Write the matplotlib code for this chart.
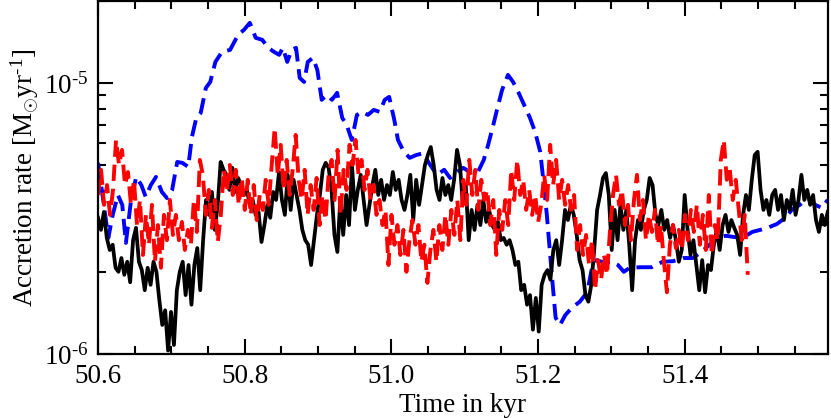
import numpy as np
import matplotlib
matplotlib.use("Agg")
import matplotlib.pyplot as plt
from matplotlib.ticker import MultipleLocator, LogLocator, FormatStrFormatter, NullFormatter, FuncFormatter

plt.rcParams['font.family'] = ['Liberation Serif', 'DejaVu Serif']
plt.rcParams['mathtext.fontset'] = 'custom'
plt.rcParams['mathtext.rm'] = 'Liberation Serif'
plt.rcParams['mathtext.it'] = 'Liberation Serif:italic'

# accretion rates in units of 1e-6 Msun/yr
# black: sampled evenly from 50.600 to 51.595 kyr
black = [3.18, 2.87, 3.34, 2.68, 2.42, 2.53, 2.08, 2.01, 2.26, 1.96, 2.19, 1.84, 2.63, 2.92, 2.19, 2.04,
         1.72, 2.08, 1.80, 2.19, 2.01, 1.58, 1.28, 1.45, 1.03, 1.43, 1.08, 1.72, 2.01, 2.19, 1.65, 2.13,
         1.52, 2.13, 2.46, 1.72, 2.63, 3.70, 3.26, 3.96, 2.87, 3.55, 5.11, 4.78, 4.58, 4.03, 4.86, 3.96,
         4.46, 4.20, 3.86, 4.03, 3.55, 3.70, 3.26, 3.34, 2.59, 2.99, 3.55, 3.18, 3.96, 3.70, 4.69, 3.70,
         3.26, 4.58, 3.40, 4.39, 3.86, 3.40, 2.87, 2.63, 2.53, 2.13, 2.63, 3.26, 3.86, 4.78, 5.07, 4.86,
         4.03, 2.75, 2.38, 3.70, 2.75, 3.86, 2.99, 4.98, 3.40, 4.03, 4.58, 3.70, 2.99, 3.55, 4.20, 4.78,
         3.86, 4.39, 3.70, 4.20, 3.86, 4.69, 4.03, 4.39, 3.70, 3.40, 3.86, 4.58, 3.12, 4.39, 3.55, 4.20,
         4.98, 5.42, 5.80, 4.98, 4.03, 3.70, 4.46, 3.86, 4.20, 3.70, 4.39, 5.66, 4.98, 3.55, 4.20, 2.63,
         3.40, 2.87, 3.55, 2.99, 3.70, 3.07, 3.40, 2.99, 2.87, 3.07, 2.63, 2.68, 2.53, 2.63, 2.42, 2.13,
         2.19, 1.72, 1.80, 1.52, 1.65, 1.23, 1.61, 1.21, 1.80, 1.96, 2.04, 1.88, 2.42, 2.63, 2.13, 2.63,
         3.40, 3.12, 3.55, 3.26, 2.75, 2.22, 2.04, 1.65, 1.56, 1.80, 2.42, 3.40, 3.86, 4.46, 4.65, 3.86,
         2.42, 3.40, 2.63, 3.55, 2.87, 3.40, 2.53, 1.72, 2.63, 3.12, 2.87, 3.40, 3.70, 4.46, 4.20, 3.26,
         2.99, 3.40, 2.87, 3.12, 2.68, 2.99, 2.63, 2.19, 2.42, 3.86, 2.87, 2.32, 2.63, 2.13, 1.72, 2.22,
         1.69, 2.13, 2.04, 2.53, 2.87, 2.42, 2.99, 3.26, 2.82, 3.12, 2.92, 2.75, 2.32, 3.26, 3.86, 3.40,
         4.39, 5.42, 5.57, 4.03, 3.40, 3.70, 3.26, 3.86, 4.03, 3.40, 3.86, 3.12, 3.70, 3.40, 4.03, 3.26,
         3.70, 4.58, 3.70, 4.03, 3.55, 3.86, 3.12, 2.82, 3.26, 2.99, 3.34]

# red: sampled evenly from 50.600 to 51.486 kyr
red = [3.86, 4.78, 3.55, 4.20, 3.26, 4.03, 6.16, 4.98, 5.66, 4.20, 4.69, 3.55, 4.39, 2.99, 3.70, 2.32,
       3.26, 2.53, 3.55, 2.19, 2.99, 2.08, 3.26, 2.63, 3.70, 2.75, 3.26, 2.63, 3.07, 2.42, 2.87, 2.53,
       3.70, 2.82, 5.20, 4.58, 3.26, 4.03, 2.92, 3.70, 2.59, 3.26, 4.78, 3.96, 4.98, 3.86, 4.78, 3.55,
       4.46, 3.40, 4.39, 3.26, 4.20, 3.12, 3.86, 3.40, 4.39, 3.55, 4.98, 6.82, 4.58, 5.91, 4.03, 5.20,
       3.86, 4.78, 6.43, 4.39, 3.70, 4.78, 3.26, 4.20, 3.40, 4.46, 2.99, 3.86, 3.12, 4.58, 5.20, 3.70,
       5.66, 3.26, 4.78, 4.03, 5.91, 4.98, 6.16, 4.58, 5.20, 4.03, 4.78, 3.70, 4.20, 3.26, 3.70, 2.99,
       3.40, 2.13, 3.26, 2.53, 2.99, 2.32, 2.87, 2.01, 2.63, 3.12, 2.53, 2.99, 2.19, 2.53, 1.83, 2.42,
       2.87, 2.19, 2.99, 2.42, 3.26, 2.53, 3.40, 2.75, 3.70, 2.63, 4.39, 3.55, 5.20, 3.86, 4.78, 3.40,
       4.39, 3.70, 4.03, 2.99, 3.70, 2.32, 3.40, 2.87, 3.70, 2.99, 4.78, 3.70, 5.20, 3.86, 4.39, 3.40,
       4.03, 3.26, 3.86, 3.07, 3.55, 4.58, 3.70, 5.91, 4.20, 5.20, 3.70, 4.39, 3.55, 4.20, 3.40, 3.86,
       2.42, 2.99, 2.32, 2.75, 2.13, 2.63, 1.72, 2.22, 1.88, 2.32, 1.96, 2.87, 3.86, 4.58, 3.55, 4.03,
       2.99, 3.55, 2.63, 3.70, 4.58, 3.12, 3.70, 2.63, 3.26, 2.82, 3.40, 2.53, 2.99, 2.19, 1.69, 2.53,
       2.99, 2.46, 2.87, 2.42, 3.26, 2.63, 3.40, 2.82, 3.55, 2.53, 3.26, 2.42, 3.86, 2.32, 2.99, 2.63,
       5.20, 6.16, 4.39, 4.78, 3.70, 4.39, 3.40, 2.63, 3.26, 1.96]

# blue: irregular samples (time in kyr, rate in 1e-6 Msun/yr)
blue_t = [50.600, 50.607, 50.614, 50.620, 50.627, 50.633, 50.638, 50.645, 50.652, 50.659, 50.665,
          50.672, 50.679, 50.687, 50.694, 50.701, 50.708, 50.715, 50.723, 50.728, 50.734, 50.740,
          50.747, 50.753, 50.760, 50.769, 50.780, 50.791, 50.799, 50.807, 50.815, 50.824, 50.832,
          50.840, 50.847, 50.852, 50.858, 50.864, 50.870, 50.875, 50.881, 50.886, 50.893, 50.899,
          50.905, 50.912, 50.919, 50.926, 50.933, 50.939, 50.946, 50.953, 50.960, 50.968, 50.976,
          50.984, 50.991, 50.997, 51.004, 51.009, 51.017, 51.025, 51.034, 51.043, 51.053, 51.062,
          51.072, 51.080, 51.089, 51.098, 51.107, 51.118, 51.126, 51.132, 51.139, 51.144, 51.151,
          51.159, 51.166, 51.173, 51.181, 51.189, 51.196, 51.203, 51.208, 51.212, 51.216, 51.220,
          51.224, 51.230, 51.237, 51.246, 51.257, 51.267, 51.273, 51.280, 51.291, 51.301, 51.309,
          51.317, 51.325, 51.339, 51.355, 51.370, 51.384, 51.398, 51.411, 51.421, 51.434, 51.445,
          51.456, 51.468, 51.479, 51.492, 51.503, 51.513, 51.526, 51.537, 51.546, 51.557, 51.568,
          51.578, 51.587, 51.595]
blue = [5.07, 3.70, 2.68, 3.26, 3.86, 3.55, 2.57, 3.70, 4.50, 4.20, 3.80,
        4.20, 4.50, 3.96, 3.76, 4.03, 5.11, 5.07, 4.90, 6.32, 7.43, 7.75,
        9.58, 10.08, 11.95, 13.01, 13.23, 15.04, 15.69, 16.65, 14.66, 14.41, 13.47,
        13.01, 12.69, 13.47, 11.95, 13.23, 13.47, 10.43, 10.08, 11.95, 12.37, 11.17,
        8.66, 9.03, 8.66, 9.19, 7.43, 7.00, 6.16, 7.62, 7.82, 7.62, 7.95,
        7.82, 8.66, 8.88, 7.30, 6.16, 5.57, 5.29, 5.42, 5.50, 4.98, 4.58,
        4.78, 4.46, 4.69, 4.86, 4.69, 4.69, 5.20, 5.91, 7.00, 7.95, 9.42,
        10.70, 10.08, 9.26, 8.30, 7.43, 6.60, 5.57, 4.20, 3.26, 2.42, 1.80,
        1.36, 1.28, 1.39, 1.48, 1.56, 1.69, 2.04, 2.22, 2.17, 2.19, 2.13,
        2.01, 2.08, 2.09, 2.09, 2.19, 2.20, 2.26, 2.26, 2.36, 2.53, 2.68,
        2.73, 2.70, 2.68, 2.82, 2.87, 2.92, 3.02, 3.18, 3.40, 3.55, 3.76,
        3.55, 3.46, 3.70]

t_black = np.linspace(50.600, 51.595, len(black))
t_red = np.linspace(50.600, 51.486, len(red))

fig = plt.figure(figsize=(8.31, 4.18), dpi=100)
ax = fig.add_axes([0.118, 0.153, 0.878, 0.844])

ax.plot(blue_t, np.array(blue) * 1e-6, color='#0000ff', lw=2.8, dashes=(4.2, 2.0))
ax.plot(t_black, np.array(black) * 1e-6, color='black', lw=2.7)
ax.plot(t_red, np.array(red) * 1e-6, color='#ff0000', lw=2.8, dashes=(4.2, 2.0))

ax.set_yscale('log')
ax.set_xlim(50.6, 51.595)
ax.set_ylim(1e-6, 2e-5)

ax.xaxis.set_major_locator(MultipleLocator(0.2))
ax.xaxis.set_minor_locator(MultipleLocator(0.05))
ax.xaxis.set_major_formatter(FormatStrFormatter('%.1f'))
ax.yaxis.set_major_locator(LogLocator(base=10))
ax.yaxis.set_minor_locator(LogLocator(base=10, subs=np.arange(2, 10)))
ax.yaxis.set_major_formatter(FuncFormatter(lambda v, _: r'10$^{\text{-}%d}$' % round(-np.log10(v))))
ax.yaxis.set_minor_formatter(NullFormatter())

ax.tick_params(which='both', direction='in', top=True, right=True, width=1.5, labelsize=19.5)
ax.tick_params(which='major', length=11, pad=7)
ax.tick_params(which='minor', length=6)
for s in ax.spines.values():
    s.set_linewidth(1.6)

ax.set_xlabel('Time in kyr', fontsize=19.5, labelpad=3)
ax.set_ylabel(r'Accretion rate [M$_{\odot}$yr$^{\text{-}1}$]', fontsize=19.5, labelpad=2)

fig.savefig('out.png', dpi=100)
